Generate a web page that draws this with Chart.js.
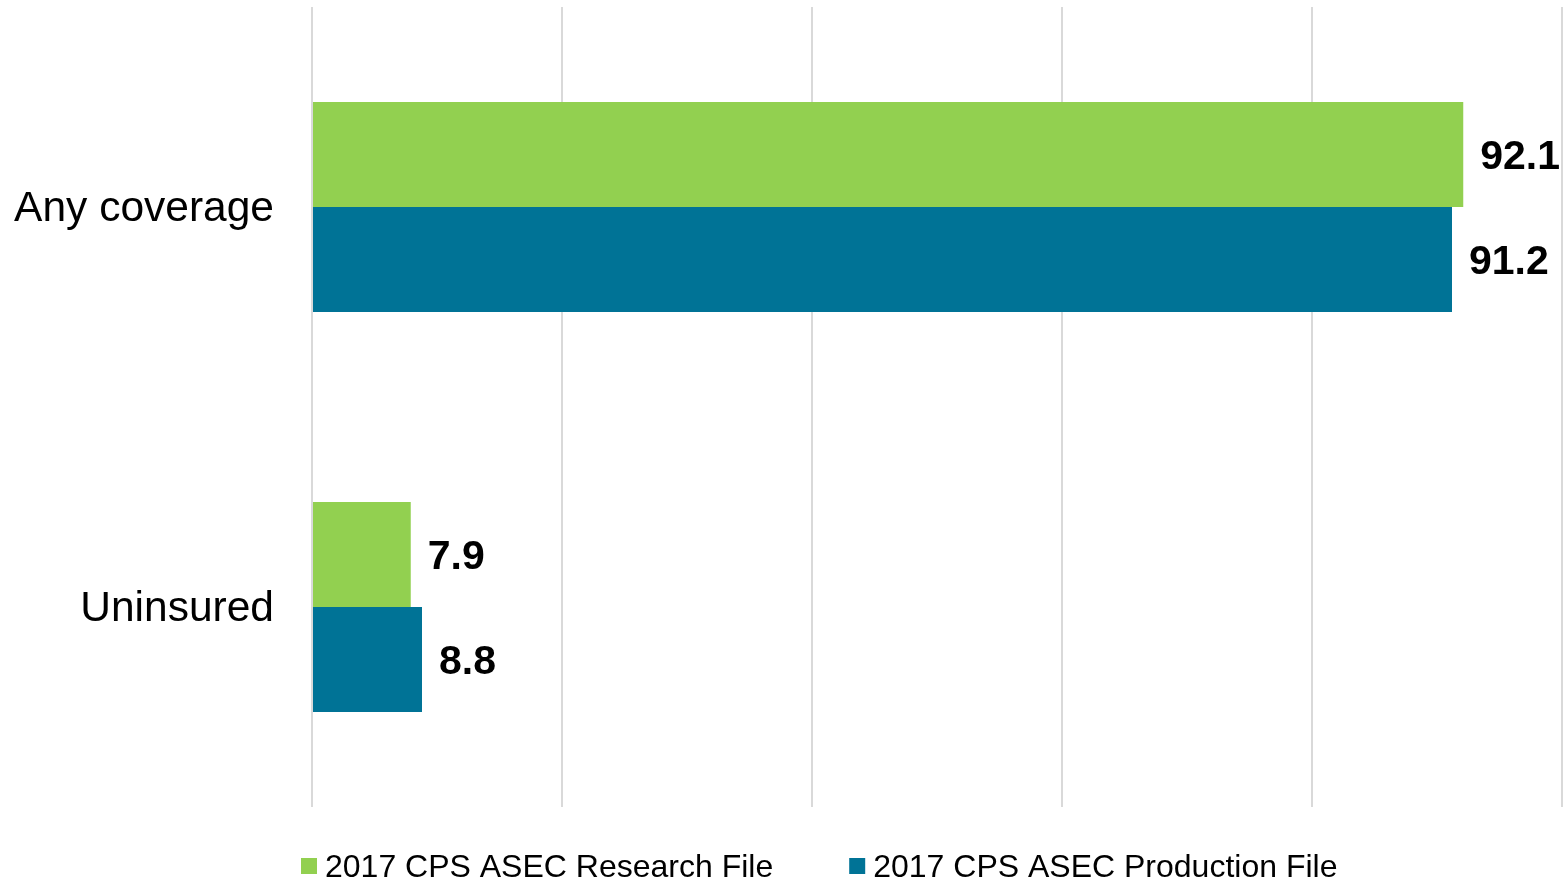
<!DOCTYPE html>
<html>
<head>
<meta charset="utf-8">
<script src="https://cdn.jsdelivr.net/npm/chart.js@4.4.1/dist/chart.umd.min.js"></script>
<style>
html,body{margin:0;padding:0;background:#fff;}
#wrap{width:1566px;height:883px;position:relative;}
</style>
</head>
<body>
<div id="wrap"><canvas id="c" width="1566" height="883"></canvas></div>
<script>
const categories = ["Any coverage", "Uninsured"];
const researchValues = [92.1, 7.9];
const productionValues = [91.2, 8.8];
const seriesNames = ["2017 CPS ASEC Research File", "2017 CPS ASEC Production File"];
const seriesColors = ["#92D050", "#007396"];
const xTicks = [0, 20, 40, 60, 80, 100];

const FONT = '"Liberation Sans", Arial, sans-serif';

const valueLabels = {
  id: 'valueLabels',
  afterDatasetsDraw(chart) {
    const ctx = chart.ctx;
    ctx.save();
    ctx.font = 'bold 41px ' + FONT;
    ctx.fillStyle = '#000';
    ctx.textBaseline = 'middle';
    ctx.textAlign = 'left';
    chart.data.datasets.forEach((ds, i) => {
      chart.getDatasetMeta(i).data.forEach((bar, j) => {
        ctx.fillText(ds.data[j].toFixed(1), bar.x + 17, bar.y + 3);
      });
    });
    ctx.restore();
  }
};

const bottomLegend = {
  id: 'bottomLegend',
  afterDraw(chart) {
    const ctx = chart.ctx;
    ctx.save();
    ctx.font = '32px ' + FONT;
    ctx.textBaseline = 'middle';
    ctx.textAlign = 'left';
    let x = 301;
    const y = 866;
    chart.data.datasets.forEach((ds, i) => {
      ctx.fillStyle = ds.backgroundColor;
      ctx.fillRect(x, y - 8, 16, 16);
      ctx.fillStyle = '#000';
      ctx.fillText(ds.label, x + 24, y + 2);
      x += 24 + ctx.measureText(ds.label).width + 76;
    });
    ctx.restore();
  }
};

new Chart(document.getElementById('c'), {
  type: 'bar',
  data: {
    labels: categories,
    datasets: [
      { label: seriesNames[0], data: researchValues, backgroundColor: seriesColors[0], categoryPercentage: 0.525, barPercentage: 1.0 },
      { label: seriesNames[1], data: productionValues, backgroundColor: seriesColors[1], categoryPercentage: 0.525, barPercentage: 1.0 }
    ]
  },
  options: {
    indexAxis: 'y',
    responsive: false,
    animation: false,
    layout: { padding: { top: 7, right: 4, left: 0, bottom: 76 } },
    scales: {
      x: {
        min: 0, max: 100,
        afterBuildTicks: s => { s.ticks = xTicks.map(v => ({ value: v })); },
        ticks: { display: false },
        grid: { color: '#d9d9d9', lineWidth: 2, drawTicks: false },
        border: { display: false },
        afterFit: s => { s.height = 0; s.paddingLeft = 0; s.paddingRight = 0; }
      },
      y: {
        ticks: { color: '#000', font: { family: FONT, size: 42.5 }, padding: 38, labelOffset: 2 },
        grid: { display: false, drawTicks: false },
        border: { display: false },
        afterFit: s => { s.width = 312; s.paddingTop = 0; s.paddingBottom = 0; }
      }
    },
    plugins: {
      legend: { display: false },
      tooltip: { enabled: false }
    }
  },
  plugins: [valueLabels, bottomLegend]
});
</script>
</body>
</html>
